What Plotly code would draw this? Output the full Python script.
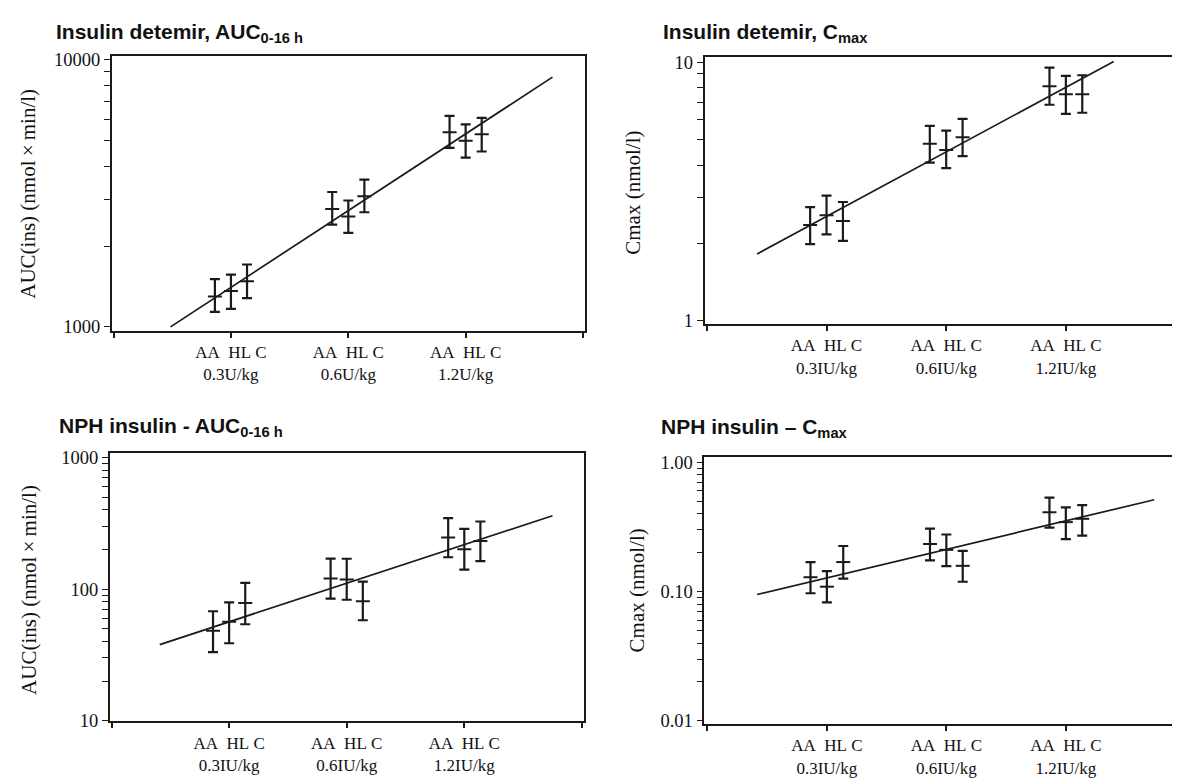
import plotly.graph_objects as go

W, H = 1180, 779

# ---------------- data (order: AA, HL, C at 0.3, 0.6, 1.2 U/kg) ----------------
groups = ["AA", "HL", "C"]
dose_pos = [1, 2, 3]

det_auc_mean = [1299, 1363, 1483, 2762, 2590, 3083, 5353, 4975, 5264]
det_auc_lo = [1138, 1167, 1281, 2413, 2250, 2686, 4676, 4298, 4535]
det_auc_hi = [1509, 1569, 1712, 3198, 2972, 3558, 6163, 5728, 6060]
det_auc_fit_x = [0.485, 3.74]
det_auc_fit_y = [1000, 8610]

det_cmax_mean = [2.35, 2.56, 2.43, 4.83, 4.57, 5.12, 8.06, 7.50, 7.50]
det_cmax_lo = [1.98, 2.16, 2.04, 4.09, 3.89, 4.33, 6.84, 6.31, 6.37]
det_cmax_hi = [2.75, 3.05, 2.88, 5.67, 5.43, 6.03, 9.52, 8.84, 8.89]
det_cmax_fit_x = [0.42, 3.40]
det_cmax_fit_y = [1.815, 10.05]

nph_auc_mean = [48.2, 56.6, 78.3, 120.5, 118.3, 80.7, 246, 201, 232]
nph_auc_lo = [33.2, 38.8, 54.1, 84.6, 83.0, 58.0, 174.6, 140.6, 163]
nph_auc_hi = [67.9, 79.3, 111.6, 170.6, 170.0, 113.8, 346.5, 287, 326]
nph_auc_fit_x = [0.41, 3.75]
nph_auc_fit_y = [37.9, 361]

nph_cmax_mean = [0.129, 0.109, 0.169, 0.233, 0.210, 0.158, 0.410, 0.344, 0.365]
nph_cmax_lo = [0.097, 0.0825, 0.126, 0.174, 0.157, 0.119, 0.312, 0.254, 0.271]
nph_cmax_hi = [0.169, 0.1436, 0.225, 0.306, 0.276, 0.206, 0.533, 0.448, 0.466]
nph_cmax_fit_x = [0.415, 3.74]
nph_cmax_fit_y = [0.0949, 0.512]

xlabels_u = ["AA\u00a0\u00a0HL\u00a0C<br>0.3U/kg", "AA\u00a0\u00a0HL\u00a0C<br>0.6U/kg", "AA\u00a0\u00a0HL\u00a0C<br>1.2U/kg"]
xlabels_iu = ["AA\u00a0\u00a0HL\u00a0C<br>0.3IU/kg", "AA\u00a0\u00a0HL\u00a0C<br>0.6IU/kg", "AA\u00a0\u00a0HL\u00a0C<br>1.2IU/kg"]
x_end_ticks = [0, 4]

# ---------------- styling ----------------
INK = "#1a1a1a"
SERIF = "Liberation Serif, Times New Roman, serif"
SANS = "Liberation Sans, Arial, sans-serif"
OFFSET = 0.137
YTICKFONT = dict(family=SERIF, size=18.5, color="#111")
XTICKFONT = dict(family=SERIF, size=17, color="#111")


def px(x):
    return x / W


def py(y):
    return 1 - y / H


def log_minor(decades):
    return [m * 10.0 ** e for e in decades for m in range(2, 10)]


fig = go.Figure()


def add_panel(idx, mean, lo, hi, fit_x, fit_y):
    xa = "x" if idx == 1 else f"x{idx}"
    ya = "y" if idx == 1 else f"y{idx}"
    xs = []
    for d in dose_pos:
        for k in range(len(groups)):
            xs.append(d + (k - 1) * OFFSET)
    fig.add_trace(go.Scatter(
        x=fit_x, y=fit_y, mode="lines", xaxis=xa, yaxis=ya,
        line=dict(color=INK, width=1.7), showlegend=False, hoverinfo="skip"))
    fig.add_trace(go.Scatter(
        x=xs, y=mean, mode="markers", xaxis=xa, yaxis=ya,
        marker=dict(symbol="line-ew", size=10, color=INK, line=dict(color=INK, width=2)),
        error_y=dict(type="data", symmetric=False,
                     array=[h - m for h, m in zip(hi, mean)],
                     arrayminus=[m - l for m, l in zip(mean, lo)],
                     color=INK, thickness=2.2, width=5),
        showlegend=False))


add_panel(1, det_auc_mean, det_auc_lo, det_auc_hi, det_auc_fit_x, det_auc_fit_y)
add_panel(2, det_cmax_mean, det_cmax_lo, det_cmax_hi, det_cmax_fit_x, det_cmax_fit_y)
add_panel(3, nph_auc_mean, nph_auc_lo, nph_auc_hi, nph_auc_fit_x, nph_auc_fit_y)
add_panel(4, nph_cmax_mean, nph_cmax_lo, nph_cmax_hi, nph_cmax_fit_x, nph_cmax_fit_y)


def xaxis(domain, rng, labels, anchor):
    vals = [x_end_ticks[0]] + dose_pos + [x_end_ticks[1]]
    texts = [""] + labels + [""]
    return dict(domain=domain, range=rng, anchor=anchor,
                tickmode="array", tickvals=vals, ticktext=texts,
                ticks="outside", ticklen=5, tickwidth=1.5, tickcolor=INK,
                showline=True, linecolor=INK, linewidth=1.8, mirror=True,
                showgrid=False, zeroline=False, tickfont=XTICKFONT)


def yaxis(domain, rng, vals, texts, decades, anchor):
    minors = log_minor(decades)
    return dict(domain=domain, range=rng, type="log", anchor=anchor,
                tickmode="array", tickvals=vals + minors, ticktext=texts + [""] * len(minors),
                ticks="outside", ticklen=6, tickwidth=1.4, tickcolor=INK,
                showline=True, linecolor=INK, linewidth=1.8, mirror=True,
                showgrid=False, zeroline=False, tickfont=YTICKFONT)


panels = [
    # (domain x, domain y, x range, y range, y ticks, y tick text, minor decades, x labels)
    ([px(104), px(577.7)], [py(323.5), py(43.3)], [-0.0145, 4.019], [2.985, 4.0125],
     [1000, 10000], ["1000", "10000"], [3], xlabels_u),
    ([px(697.3), px(1179.5)], [py(316.7), py(44)], [-0.018, 4.008], [-0.0125, 1.019],
     [1, 10], ["1", "10"], [0], xlabels_iu),
    ([px(102), px(576)], [py(722.3), py(448)], [-0.014, 4.014], [0.995, 3.035],
     [10, 100, 1000], ["10", "100", "1000"], [1, 2], xlabels_iu),
    ([px(697), px(1179.5)], [py(725), py(452.3)], [-0.025, 4.01], [-2.025, 0.04],
     [0.01, 0.1, 1], ["0.01", "0.10", "1.00"], [-2, -1], xlabels_iu),
]

layout_axes = {}
for i, (dx, dy, xr, yr, yv, yt, dec, xl) in enumerate(panels, start=1):
    sfx = "" if i == 1 else str(i)
    xname, yname = "x" + sfx, "y" + sfx
    layout_axes["xaxis" + sfx] = xaxis(dx, xr, xl, yname)
    layout_axes["yaxis" + sfx] = yaxis(dy, yr, yv, yt, dec, xname)

fig.update_layout(width=W, height=H, margin=dict(l=0, r=0, t=0, b=0),
                  paper_bgcolor="white", plot_bgcolor="white", **layout_axes)

titles = [
    ("<b>Insulin detemir, AUC<sub>0-16 h</sub></b>", 46, 19),
    ("<b>Insulin detemir, C<sub>max</sub></b>", 654, 19),
    ("<b>NPH insulin - AUC<sub>0-16 h</sub></b>", 49, 422),
    ("<b>NPH insulin \u2013 C<sub>max</sub></b>", 652, 423),
]
for text, x, y in titles:
    fig.add_annotation(text=text, x=px(x), y=py(y), xref="paper", yref="paper",
                       xanchor="left", yanchor="middle", showarrow=False,
                       font=dict(family=SANS, size=21, color="#111"))

ytitles = [
    ("AUC(ins) (nmol\u2009\u00d7\u2009min/l)", 20.5, 183),
    ("Cmax (nmol/l)", 626, 182),
    ("AUC(ins) (nmol\u2009\u00d7\u2009min/l)", 21, 588),
    ("Cmax (nmol/l)", 629, 588),
]
for text, x, y in ytitles:
    fig.add_annotation(text=text, x=px(x), y=py(y), xref="paper", yref="paper",
                       xanchor="center", yanchor="middle", textangle=-90, showarrow=False,
                       font=dict(family=SERIF, size=21, color="#111"))

fig.write_html("out.html")
